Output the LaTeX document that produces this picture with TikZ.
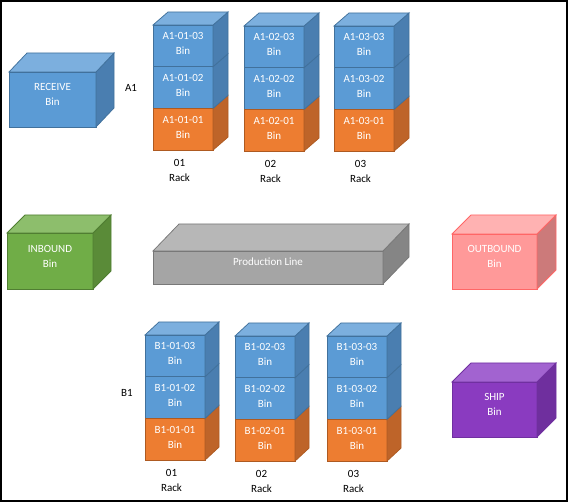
\documentclass[tikz,border=0pt]{standalone}
\usepackage{fontspec}
\setmainfont{Carlito}
\usetikzlibrary{positioning,calc}
\definecolor{binblue}{HTML}{5B9BD5}
\definecolor{bluetop}{HTML}{7CAFDE}
\definecolor{blueside}{HTML}{4A7EB0}
\definecolor{blueline}{HTML}{41719C}
\definecolor{binorange}{HTML}{ED7D31}
\definecolor{orangeside}{HTML}{BE6429}
\definecolor{orangeline}{HTML}{AE5A21}
\definecolor{bingreen}{HTML}{70AD47}
\definecolor{greentop}{HTML}{8DBE6C}
\definecolor{greenside}{HTML}{5A8B38}
\definecolor{greenline}{HTML}{507E32}
\definecolor{lingray}{HTML}{A5A5A5}
\definecolor{graytop}{HTML}{B7B7B7}
\definecolor{grayside}{HTML}{858585}
\definecolor{grayline}{HTML}{787878}
\definecolor{binpink}{HTML}{FF9999}
\definecolor{pinktop}{HTML}{FFB2B2}
\definecolor{pinkside}{HTML}{CC7A7A}
\definecolor{pinkline}{HTML}{FF6666}
\definecolor{binpurple}{HTML}{8A3BC0}
\definecolor{purpletop}{HTML}{A263D0}
\definecolor{purpleside}{HTML}{6F2F9E}
\definecolor{purpleline}{HTML}{7030A0}
\tikzstyle{bin}=[draw, line width=0.75pt, inner sep=0pt, outer sep=0pt, text=white, align=center, text depth=10pt, font=\fontsize{11}{15}\selectfont]
\tikzstyle{bluebin}=[bin, fill=binblue, draw=blueline, minimum width=60pt, minimum height=41.7pt, text depth=4.5pt]
\tikzstyle{orangebin}=[bin, fill=binorange, draw=orangeline, minimum width=60pt, minimum height=41.7pt, text depth=4.5pt]
\tikzstyle{racklabel}=[inner sep=0pt, align=center, font=\fontsize{11}{15}\selectfont]
% side and top faces of a box, drawn off the front node
\newcommand{\cubeside}[5]{\filldraw[line width=0.75pt, fill=#4, draw=#5] (#1.north east) -- ++(#2,-#3) -- ($(#1.south east)+(#2,-#3)$) -- (#1.south east) -- cycle;}
\newcommand{\cubetop}[5]{\filldraw[line width=0.75pt, fill=#4, draw=#5] (#1.north west) -- ++(#2,-#3) -- ($(#1.north east)+(#2,-#3)$) -- (#1.north east) -- cycle;}
\begin{document}
\begin{tikzpicture}[x=1pt, y=-1pt]
    \useasboundingbox (0,0) rectangle (568,502);
    \draw[line width=2pt] (1,1) rectangle (566.5,501);

    % single bins
    \node[bin, fill=binblue, draw=blueline, anchor=north west, minimum width=87pt, minimum height=55pt] (receive) at (9,72) {RECEIVE\\Bin};
    \cubeside{receive}{18}{19}{blueside}{blueline}
    \cubetop{receive}{18}{19}{bluetop}{blueline}
    \node[bin, fill=bingreen, draw=greenline, anchor=north west, minimum width=86pt, minimum height=56pt] (inbound) at (7,233) {INBOUND\\Bin};
    \cubeside{inbound}{18}{18}{greenside}{greenline}
    \cubetop{inbound}{18}{18}{greentop}{greenline}
    \node[bin, fill=lingray, draw=grayline, anchor=north west, minimum width=230pt, minimum height=33pt, text depth=11pt] (prodline) at (153,251) {Production Line};
    \cubeside{prodline}{26}{27}{grayside}{grayline}
    \cubetop{prodline}{26}{27}{graytop}{grayline}
    \node[bin, fill=binpink, draw=pinkline, anchor=north west, minimum width=85pt, minimum height=55pt] (outbound) at (452,234) {OUTBOUND\\Bin};
    \cubeside{outbound}{19}{19}{pinkside}{pinkline}
    \cubetop{outbound}{19}{19}{pinktop}{pinkline}
    \node[bin, fill=binpurple, draw=purpleline, anchor=north west, minimum width=85pt, minimum height=55pt] (ship) at (452,382) {SHIP\\Bin};
    \cubeside{ship}{19}{19}{purpleside}{purpleline}
    \cubetop{ship}{19}{19}{purpletop}{purpleline}

    % racks
    \node[racklabel] (aisleA) at (131,88) {A1};
    \node[racklabel] (aisleB) at (127,393) {B1};
    \foreach \r/\x/\y in {1/153/25, 2/244/26, 3/334/26} {
        \node[bluebin, anchor=north west] (a\r3) at (\x,\y) {A1-0\r-03\\Bin};
        \node[bluebin, below=0pt of a\r3] (a\r2) {A1-0\r-02\\Bin};
        \node[orangebin, below=0pt of a\r2] (a\r1) {A1-0\r-01\\Bin};
        \cubeside{a\r1}{15}{13}{orangeside}{orangeline}
        \cubeside{a\r2}{15}{13}{blueside}{blueline}
        \cubeside{a\r3}{15}{13}{blueside}{blueline}
        \cubetop{a\r3}{15}{13}{bluetop}{blueline}
        \node[racklabel, below=9pt of a\r1, xshift=-3.5pt] (ra\r) {0\r\\Rack};
    }
    \foreach \r/\x/\y in {1/145/335, 2/235/336, 3/327/336} {
        \node[bluebin, anchor=north west] (b\r3) at (\x,\y) {B1-0\r-03\\Bin};
        \node[bluebin, below=0pt of b\r3] (b\r2) {B1-0\r-02\\Bin};
        \node[orangebin, below=0pt of b\r2] (b\r1) {B1-0\r-01\\Bin};
        \cubeside{b\r1}{14}{13}{orangeside}{orangeline}
        \cubeside{b\r2}{14}{13}{blueside}{blueline}
        \cubeside{b\r3}{14}{13}{blueside}{blueline}
        \cubetop{b\r3}{14}{13}{bluetop}{blueline}
        \node[racklabel, below=9pt of b\r1, xshift=-3.5pt] (rb\r) {0\r\\Rack};
    }
\end{tikzpicture}
\end{document}
